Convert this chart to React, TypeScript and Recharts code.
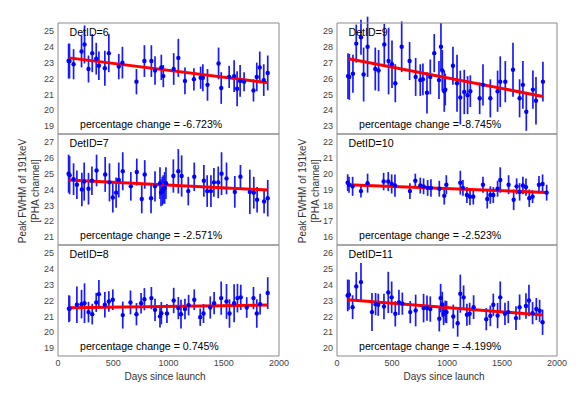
import { ComposedChart, Scatter, ErrorBar, Line, XAxis, YAxis } from "recharts";

const FONT = '"Liberation Sans", Arial, Helvetica, sans-serif';
const FRAME = "#8a8a8a";
const TICK_TEXT = "#444";

const xTicks = [0, 500, 1000, 1500, 2000];

// DetID=6
const days6 = [96, 104, 141, 213, 240, 276, 310, 346, 370, 424, 460, 550, 583, 710, 782, 845, 878, 935, 953, 1047, 1089, 1149, 1230, 1291, 1311, 1353, 1453, 1477, 1549, 1594, 1621, 1648, 1684, 1769, 1799, 1826, 1862, 1898];
const fwhm6 = [23.1, 23.1, 22.9, 23.7, 24.15, 22.6, 23.6, 23.25, 22.8, 22.65, 23.6, 22.75, 23.0, 21.8, 23.1, 23.1, 22.5, 22.7, 22.15, 22.6, 23.3, 21.85, 21.95, 22.05, 22.05, 21.6, 22.95, 21.4, 22.1, 22.15, 21.35, 21.85, 21.8, 21.25, 22.1, 22.7, 21.9, 22.35];
const err6 = [1.1, 1.1, 0.95, 1.0, 1.2, 0.85, 1.2, 1.0, 0.9, 1.1, 1.2, 0.8, 1.0, 0.8, 1.0, 1.0, 0.9, 0.8, 0.7, 1.0, 1.2, 0.85, 0.7, 0.7, 0.85, 1.0, 1.0, 1.0, 0.7, 1.0, 1.1, 1.0, 0.6, 0.7, 0.9, 1.0, 1.0, 1.1];
const fitDays6 = [100, 1900];
const fit6 = [23.3, 21.73];
const yTicks6 = [19, 20, 21, 22, 23, 24, 25];

// DetID=7
const days7 = [96, 105, 141, 171, 216, 237, 276, 307, 349, 427, 466, 496, 526, 550, 586, 659, 713, 758, 785, 842, 878, 923, 932, 944, 953, 965, 977, 1044, 1089, 1119, 1179, 1233, 1320, 1350, 1384, 1411, 1450, 1480, 1525, 1600, 1651, 1736, 1772, 1802, 1865, 1898];
const fwhm7 = [25.0, 24.9, 24.65, 24.3, 24.0, 24.5, 24.05, 24.55, 25.2, 24.95, 24.45, 23.5, 23.8, 24.6, 25.15, 24.2, 25.1, 23.4, 24.95, 23.45, 24.2, 24.4, 23.8, 23.9, 24.0, 24.1, 24.4, 24.85, 25.15, 24.85, 23.9, 24.8, 24.55, 23.9, 23.9, 24.45, 24.45, 25.0, 24.7, 23.85, 24.8, 23.85, 23.8, 23.35, 23.25, 23.45];
const err7 = [1.2, 1.2, 1.0, 0.9, 1.05, 1.2, 1.0, 0.9, 1.0, 1.1, 1.2, 0.95, 0.95, 1.1, 1.2, 0.9, 0.85, 0.9, 0.9, 0.95, 0.95, 1.0, 0.85, 0.9, 0.9, 1.0, 1.0, 1.05, 1.4, 1.3, 0.9, 0.9, 1.0, 1.0, 1.0, 0.9, 1.0, 1.35, 1.0, 1.0, 0.75, 1.4, 1.0, 0.8, 0.75, 1.15];
const fitDays7 = [96, 1898];
const fit7 = [24.6, 23.97];
const yTicks7 = [21, 22, 23, 24, 25, 26, 27];

// DetID=8
const days8 = [99, 105, 171, 213, 240, 276, 310, 346, 370, 424, 460, 496, 586, 656, 710, 752, 782, 845, 878, 923, 935, 986, 1047, 1089, 1113, 1149, 1182, 1233, 1287, 1317, 1378, 1413, 1477, 1525, 1552, 1594, 1624, 1654, 1708, 1769, 1799, 1829, 1898];
const fwhm8 = [21.48, 21.5, 21.73, 21.77, 21.83, 21.27, 21.14, 21.88, 22.4, 21.73, 21.94, 22.05, 21.08, 21.88, 21.14, 21.83, 22.08, 22.15, 21.41, 21.0, 21.2, 21.18, 22.0, 21.52, 21.14, 21.46, 21.71, 22.05, 20.95, 21.18, 21.56, 21.83, 22.15, 21.94, 21.18, 21.83, 22.15, 22.2, 21.56, 22.15, 21.18, 21.77, 22.47];
const err8 = [0.85, 0.8, 1.15, 0.9, 1.25, 0.65, 0.65, 0.6, 0.9, 0.8, 0.65, 0.65, 0.85, 0.75, 0.7, 0.65, 0.7, 0.7, 0.7, 0.7, 0.7, 0.6, 0.8, 0.7, 0.9, 0.65, 0.65, 0.65, 0.55, 0.6, 0.7, 0.7, 1.05, 1.1, 0.9, 1.2, 0.9, 0.8, 0.65, 0.7, 0.9, 0.65, 1.0];
const fitDays8 = [99, 1898];
const fit8 = [21.55, 21.71];
const yTicks8 = [19, 20, 21, 22, 23, 24, 25];

// DetID=9
const days9 = [100, 112, 145, 175, 218, 242, 278, 348, 378, 430, 469, 500, 530, 588, 660, 715, 757, 781, 818, 848, 884, 927, 945, 957, 975, 984, 1054, 1091, 1121, 1157, 1187, 1212, 1297, 1327, 1394, 1460, 1484, 1530, 1600, 1660, 1690, 1721, 1781, 1809, 1872];
const fwhm9 = [26.15, 26.1, 26.3, 28.2, 28.6, 26.25, 28.0, 26.6, 26.5, 28.15, 27.1, 26.9, 25.7, 28.0, 27.1, 26.1, 25.9, 25.95, 25.1, 26.1, 27.6, 25.9, 28.0, 26.5, 25.2, 25.3, 26.8, 25.7, 24.8, 25.15, 24.95, 25.2, 24.75, 25.6, 24.75, 25.2, 25.8, 25.8, 26.55, 24.75, 25.6, 23.9, 25.3, 24.6, 25.8];
const err9 = [1.45, 1.45, 1.2, 1.2, 1.1, 1.7, 1.9, 1.35, 1.3, 1.3, 2.1, 1.5, 1.2, 1.6, 1.2, 1.2, 1.0, 1.0, 1.3, 1.1, 1.2, 1.2, 1.5, 1.3, 1.3, 1.0, 1.2, 1.8, 1.7, 1.4, 1.2, 1.0, 1.0, 1.3, 1.2, 1.3, 1.6, 1.3, 1.7, 1.2, 1.5, 1.2, 1.2, 1.5, 1.25];
const fitDays9 = [106, 1872];
const fit9 = [27.25, 24.87];
const yTicks9 = [23, 24, 25, 26, 27, 28, 29];

// DetID=10
const days10 = [97, 109, 142, 218, 278, 424, 466, 497, 527, 663, 712, 757, 787, 824, 854, 930, 975, 994, 1121, 1145, 1181, 1209, 1239, 1327, 1366, 1394, 1421, 1460, 1484, 1560, 1606, 1633, 1660, 1690, 1718, 1748, 1778, 1836, 1869, 1906];
const fwhm10 = [19.43, 19.3, 19.2, 18.9, 19.4, 19.5, 19.5, 19.35, 19.25, 18.9, 19.55, 19.25, 19.2, 19.1, 19.1, 19.05, 18.6, 19.3, 19.43, 19.1, 18.65, 18.55, 18.55, 19.3, 18.4, 18.65, 18.65, 19.05, 19.6, 19.3, 18.35, 19.2, 18.85, 19.25, 19.15, 18.45, 18.55, 19.3, 19.35, 18.8];
const err10 = [0.53, 0.5, 0.6, 0.4, 0.6, 0.55, 0.6, 0.6, 0.7, 0.5, 0.45, 0.5, 0.5, 0.5, 0.55, 0.5, 0.55, 0.6, 0.75, 0.5, 0.5, 0.55, 0.5, 0.5, 0.6, 0.55, 0.5, 0.5, 0.8, 0.6, 0.65, 0.5, 0.55, 0.55, 0.55, 0.55, 0.4, 0.55, 0.6, 0.5];
const fitDays10 = [97, 1906];
const fit10 = [19.3, 18.81];
const yTicks10 = [16, 17, 18, 19, 20, 21, 22];

// DetID=11
const days11 = [97, 109, 142, 175, 218, 318, 351, 375, 427, 466, 497, 530, 563, 594, 666, 715, 787, 818, 848, 930, 942, 957, 969, 984, 996, 1057, 1097, 1121, 1151, 1181, 1206, 1242, 1357, 1394, 1421, 1460, 1484, 1527, 1557, 1627, 1660, 1718, 1745, 1778, 1812, 1842, 1869];
const fwhm11 = [23.32, 23.36, 22.58, 23.89, 24.16, 22.27, 22.77, 22.73, 22.62, 23.51, 23.2, 22.16, 22.88, 22.8, 22.27, 22.37, 22.52, 22.52, 22.46, 21.85, 23.15, 22.75, 22.15, 22.3, 22.27, 21.99, 21.57, 23.43, 23.2, 22.1, 22.16, 22.58, 21.82, 22.03, 22.73, 22.05, 23.2, 22.16, 22.27, 21.89, 22.58, 22.65, 23.0, 22.2, 22.46, 22.35, 21.63];
const err11 = [1.0, 0.95, 0.75, 0.9, 1.2, 1.2, 0.7, 0.7, 0.8, 1.3, 1.0, 0.8, 0.8, 0.7, 0.7, 1.0, 0.9, 0.8, 0.8, 0.8, 0.9, 0.8, 0.7, 0.7, 0.7, 0.75, 0.85, 1.2, 0.75, 0.7, 0.7, 0.75, 0.7, 0.65, 0.7, 0.8, 1.0, 0.7, 0.7, 0.75, 0.8, 0.8, 1.0, 0.7, 0.7, 0.7, 0.8];
const fitDays11 = [97, 1869];
const fit11 = [23.05, 22.08];
const yTicks11 = [20, 21, 22, 23, 24, 25, 26];

const detIds = [6, 7, 8, 9, 10, 11];
const changes = ["-6.723%", "-2.571%", "0.745%", "-8.745%", "-2.523%", "-4.199%"];

const panels = [
  { days: days6, fwhm: fwhm6, err: err6, fitDays: fitDays6, fit: fit6, yTicks: yTicks6 },
  { days: days7, fwhm: fwhm7, err: err7, fitDays: fitDays7, fit: fit7, yTicks: yTicks7 },
  { days: days8, fwhm: fwhm8, err: err8, fitDays: fitDays8, fit: fit8, yTicks: yTicks8 },
  { days: days9, fwhm: fwhm9, err: err9, fitDays: fitDays9, fit: fit9, yTicks: yTicks9 },
  { days: days10, fwhm: fwhm10, err: err10, fitDays: fitDays10, fit: fit10, yTicks: yTicks10 },
  { days: days11, fwhm: fwhm11, err: err11, fitDays: fitDays11, fit: fit11, yTicks: yTicks11 },
];

const PLOT_TOPS = [23, 134, 245];
const PLOT_H = 111;

const Dot = (props: any) => <circle cx={props.cx} cy={props.cy} r={2.2} fill="#0000ff" />;

function Panel({ idx }: { idx: number }) {
  const p = panels[idx];
  const col = idx < 3 ? 0 : 1;
  const row = idx % 3;
  const plotLeft = col === 0 ? 58 : 337;
  const plotW = col === 0 ? 221 : 220;
  const plotTop = PLOT_TOPS[row];
  const chartLeft = col === 0 ? 0 : 290;
  const bottomPanel = row === 2;
  const padTop = 8;
  const padRight = 10;
  const yW = 30;
  const labelH = 18;
  const width = plotLeft - chartLeft + plotW + padRight;
  const height = padTop + PLOT_H + (bottomPanel ? labelH : 8);

  const points = p.days.map((d, i) => ({ x: d, y: p.fwhm[i], e: p.err[i] }));
  const fitData = p.fitDays.map((d, i) => ({ x: d, y: p.fit[i] }));
  const yDomain = [p.yTicks[0] - 0.5, p.yTicks[p.yTicks.length - 1] + 0.5];

  const inward = { stroke: FRAME };

  return (
    <>
      <div style={{ position: "absolute", left: chartLeft, top: plotTop - padTop }}>
        <ComposedChart
          width={width}
          height={height}
          margin={{ top: padTop, right: padRight, bottom: bottomPanel ? 0 : 8, left: plotLeft - chartLeft - yW }}
        >
          <XAxis xAxisId="xb" dataKey="x" type="number" domain={[0, 2000]} ticks={xTicks} allowDataOverflow
            orientation="bottom" mirror tick={false} tickSize={4} axisLine={inward} tickLine={inward} />
          <XAxis xAxisId="xt" dataKey="x" type="number" domain={[0, 2000]} ticks={xTicks} allowDataOverflow
            orientation="top" mirror tick={false} tickSize={4} axisLine={inward} tickLine={inward} />
          {bottomPanel && (
            <XAxis xAxisId="xl" dataKey="x" type="number" domain={[0, 2000]} ticks={xTicks} allowDataOverflow
              orientation="bottom" height={labelH} interval={0} axisLine={false} tickLine={false}
              tickSize={0} tickMargin={4} tick={{ fontSize: 9, fill: TICK_TEXT }} />
          )}
          <YAxis yAxisId="yl" dataKey="y" type="number" domain={yDomain} ticks={p.yTicks} allowDataOverflow
            width={yW} interval={0} axisLine={false} tickLine={false} tickSize={0} tickMargin={4}
            tick={{ fontSize: 9, fill: TICK_TEXT }} />
          <YAxis yAxisId="ylm" dataKey="y" type="number" domain={yDomain} ticks={p.yTicks} allowDataOverflow
            orientation="left" mirror tick={false} tickSize={4} axisLine={inward} tickLine={inward} />
          <YAxis yAxisId="yrm" dataKey="y" type="number" domain={yDomain} ticks={p.yTicks} allowDataOverflow
            orientation="right" mirror tick={false} tickSize={4} axisLine={inward} tickLine={inward} />
          <Scatter data={points} dataKey="y" xAxisId="xb" yAxisId="yl" fill="#0000ff" shape={Dot} isAnimationActive={false}>
            <ErrorBar dataKey="e" direction="y" width={0} stroke="#1a1aff" strokeWidth={1.7} isAnimationActive={false} />
          </Scatter>
          <Line data={fitData} dataKey="y" xAxisId="xb" yAxisId="yl" stroke="#ff0000" strokeWidth={3}
            dot={false} activeDot={false} isAnimationActive={false} />
        </ComposedChart>
      </div>
      <div style={{ position: "absolute", left: plotLeft + 11.5, top: plotTop + 3, fontSize: 10.6, lineHeight: "12px", color: "#000", whiteSpace: "nowrap" }}>
        DetID={detIds[idx]}
      </div>
      <div style={{ position: "absolute", left: plotLeft + 22, top: plotTop + 95, fontSize: 10.6, lineHeight: "12px", color: "#000", whiteSpace: "nowrap" }}>
        percentage change = {changes[idx]}
      </div>
    </>
  );
}

const YLabel = ({ cx, cy, text }: { cx: number; cy: number; text: string }) => (
  <div style={{
    position: "absolute", left: cx - 100, top: cy - 6, width: 200, height: 12, lineHeight: "12px",
    textAlign: "center", fontSize: 10, color: "#333", transform: "rotate(-90deg)", whiteSpace: "nowrap",
  }}>
    {text}
  </div>
);

const XLabel = ({ cx, cy }: { cx: number; cy: number }) => (
  <div style={{
    position: "absolute", left: cx - 100, top: cy - 6, width: 200, lineHeight: "12px",
    textAlign: "center", fontSize: 10, color: "#333",
  }}>
    Days since launch
  </div>
);

export default function App() {
  return (
    <div style={{ position: "absolute", left: 0, top: 0, width: 581, height: 396, background: "#fff", fontFamily: FONT, overflow: "hidden" }}>
      {panels.map((_, i) => <Panel key={i} idx={i} />)}
      <YLabel cx={23} cy={191} text="Peak FWHM of 191keV" />
      <YLabel cx={36} cy={191} text="[PHA channel]" />
      <YLabel cx={303} cy={191} text="Peak FWHM of 191keV" />
      <YLabel cx={316} cy={191} text="[PHA channel]" />
      <XLabel cx={165} cy={377} />
      <XLabel cx={444} cy={377} />
    </div>
  );
}
